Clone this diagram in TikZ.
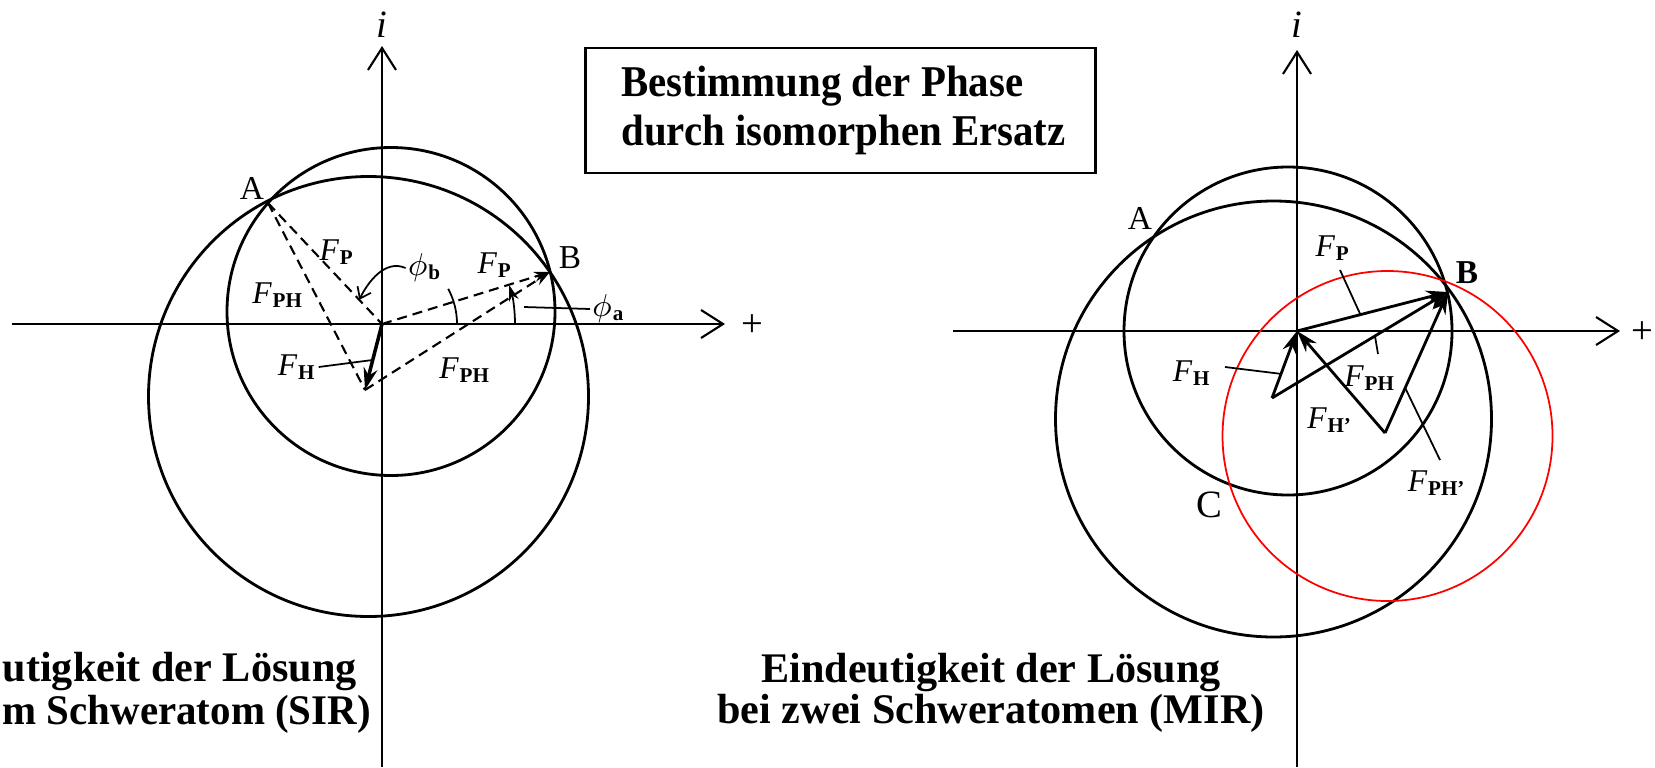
\documentclass[tikz,border=0pt]{standalone}
\usepackage{fontspec}
\setmainfont{Liberation Serif}
\newfontfamily\ttlfont[FakeStretch=0.93]{Liberation Serif}
\newfontfamily\capfont[FakeStretch=0.97]{Liberation Serif}
\usetikzlibrary{arrows.meta,calc}

% vector label: italic F with bold roman index
\newcommand{\Fv}[1]{\textit{F}\kern0.2pt\textsubscript{\bfseries #1}}
\newcommand{\phiv}[1]{$\phi$\kern0.3pt\textsubscript{\bfseries #1}}

\begin{document}
\begin{tikzpicture}[
  font=\fontsize{9}{10}\selectfont,
  every node/.style={align=center},
  % circles
  pcirc/.style={line width=0.8pt},
  hcirc/.style={draw=red, line width=0.5pt},
  % axes, vectors, leaders
  axline/.style={-{Straight Barb[length=2.2mm,width=2.8mm]}, line width=0.6pt},
  vec/.style={-{Stealth[length=2.2mm,width=1.4mm]}, line width=0.8pt},
  dvec/.style={dash pattern=on 1mm off 0.6mm, line width=0.6pt},
  dtip/.style={-{Stealth[length=1.6mm,width=1mm]}},
  lead/.style={line width=0.5pt},
  % labels
  lbl/.style={inner sep=0.5pt},
  ptlbl/.style={inner sep=0.5pt, font=\fontsize{9.5}{10}\selectfont},
  axlbl/.style={inner sep=0pt, font=\fontsize{11}{12}\selectfont},
  captxt/.style={inner sep=0pt, font=\fontsize{12}{11.8}\selectfont\bfseries},
]
\useasboundingbox (0,0) rectangle (16.55,7.67);

% -------------------------------------------------------
% TITLE
% -------------------------------------------------------
\node[draw, line width=0.8pt, align=left, inner xsep=0.3cm,
      minimum width=5.03cm, minimum height=1.25cm,
      font=\ttlfont\fontsize{12.5}{13.7}\selectfont\bfseries]
  (title) at (8.405,6.565) {\hspace*{0.06cm}Bestimmung der Phase\\\hspace*{0.06cm}durch isomorphen Ersatz};

% -------------------------------------------------------
% LEFT — one heavy atom (SIR)
% -------------------------------------------------------
\coordinate (OL) at (3.82,4.43);
\coordinate (HL) at (3.65,3.77);
\coordinate (AL) at (2.68,5.64);
\coordinate (BL) at (5.50,4.95);

% axes
\coordinate (xL0) at (0.12,4.43);
\coordinate (xL1) at (7.25,4.43);
\coordinate (yL0) at (3.82,0);
\coordinate (yL1) at (3.82,7.21);
\draw[axline] (xL0) -- (xL1);
\draw[axline] (yL0) -- (yL1);
\node[axlbl] (plusL) at (7.52,4.41) {+};
\node[axlbl] (iL)    at (3.82,7.42) {\textit{i}};

% circles
\draw[pcirc] (3.91,4.555) circle[radius=1.64];
\draw[pcirc] (3.685,3.705) circle[radius=2.2];

% vectors
\draw[vec, line width=1pt] (OL) -- (HL);
\draw[dvec] (AL) -- (OL);
\draw[dvec] (AL) -- (HL);
\draw[dvec, dtip] (OL) -- (BL);
\draw[dvec, dtip] (HL) -- (BL);

% phase angles
\draw[lead] ($(OL)+(0.75,0)$) arc[start angle=0, end angle=28, radius=0.75];
\draw[lead, dtip] ($(OL)+(1.33,0)$) arc[start angle=0, end angle=17, radius=1.33];

\node[ptlbl] (AlblL) at (2.52,5.79) {A};
\node[ptlbl] (BlblL) at (5.70,5.09) {B};
\node[lbl] (FPa)   at (3.37,5.15) {\Fv{P}};
\node[lbl] (FPHa)  at (2.78,4.72) {\Fv{PH}};
\node[lbl] (FPb)   at (4.95,5.02) {\Fv{P}};
\node[lbl] (FPHb)  at (4.65,3.97) {\Fv{PH}};
\node[lbl] (FHL)   at (2.97,4.00) {\Fv{H}};
\node[lbl] (phib)  at (4.25,4.99) {\phiv{b}};
\node[lbl, anchor=west] (phia) at (5.90,4.58) {\phiv{a}};

\coordinate (pbt) at ($(OL)!0.2!(AL)$);
\coordinate (pa0) at (5.24,4.60);
\draw[lead, -{Straight Barb[length=1mm,width=1.5mm]}]
  (phib.west) .. controls (3.85,5.08) and (3.68,4.85) .. (pbt);
\draw[lead] (phia.west) -- (pa0);
\draw[lead] (FHL.east) -- ($(OL)!0.545!(HL)$);

\node[captxt, anchor=west] (capL1) at (0.02,0.95) {utigkeit der Lösung};
\node[captxt, anchor=west, font=\capfont\fontsize{12}{11.8}\selectfont\bfseries]
  (capL2) at (0.02,0.53) {m Schweratom (SIR)};

% -------------------------------------------------------
% RIGHT — two heavy atoms (MIR)
% -------------------------------------------------------
\coordinate (OR)  at (12.97,4.36);
\coordinate (BR)  at (14.48,4.75);
\coordinate (AR)  at (11.61,5.37);
\coordinate (HR)  at (12.72,3.69);
\coordinate (HpR) at (13.85,3.34);

% axes
\coordinate (xR0) at (9.53,4.36);
\coordinate (xR1) at (16.20,4.36);
\coordinate (yR0) at (12.97,0);
\coordinate (yR1) at (12.97,7.17);
\draw[axline] (xR0) -- (xR1);
\draw[axline] (yR0) -- (yR1);
\node[axlbl] (plusR) at (16.42,4.34) {+};
\node[axlbl] (iR)    at (12.97,7.42) {\textit{i}};

% circles
\draw[pcirc] (12.88,4.36) circle[radius=1.64];
\draw[pcirc] (12.735,3.48) circle[radius=2.18];
\draw[hcirc] (13.875,3.31) circle[radius=1.65];

% vectors
\draw[vec] (OR) -- (BR);
\draw[vec] (HR) -- (OR);
\draw[vec] (HR) -- (BR);
\draw[vec] (HpR) -- (OR);
\draw[vec] (HpR) -- (BR);

\node[ptlbl] (AlblR) at (11.40,5.49) {A};
\node[ptlbl, font=\fontsize{9.5}{10}\selectfont\bfseries] (BlblR) at (14.67,4.94) {B};
\node[ptlbl, font=\fontsize{11}{12}\selectfont] (ClblR) at (12.09,2.62) {C};

\node[lbl] (FPR)   at (13.33,5.19) {\Fv{P}};
\node[lbl] (FHR)   at (11.92,3.94) {\Fv{H}};
\node[lbl] (FPHR)  at (13.70,3.89) {\Fv{PH}};
\node[lbl] (FHpR)  at (13.30,3.47) {\Fv{H'}};
\node[lbl] (FPHpR) at (14.37,2.84) {\Fv{PH'}};

% leaders
\coordinate (lPR)   at (13.40,4.97);
\coordinate (lHR)   at (12.25,4.00);
\coordinate (lPHR)  at (13.78,4.13);
\coordinate (lPHpR) at (14.40,3.07);
\draw[lead] (lPR)   -- ($(OR)!0.42!(BR)$);
\draw[lead] (lHR)   -- ($(HR)!0.36!(OR)$);
\draw[lead] (lPHR)  -- ($(HR)!0.585!(BR)$);
\draw[lead] (lPHpR) -- ($(HpR)!0.32!(BR)$);

\node[captxt] (capR) at (9.91,0.74) {Eindeutigkeit der Lösung\\bei zwei Schweratomen (MIR)};

\end{tikzpicture}
\end{document}
